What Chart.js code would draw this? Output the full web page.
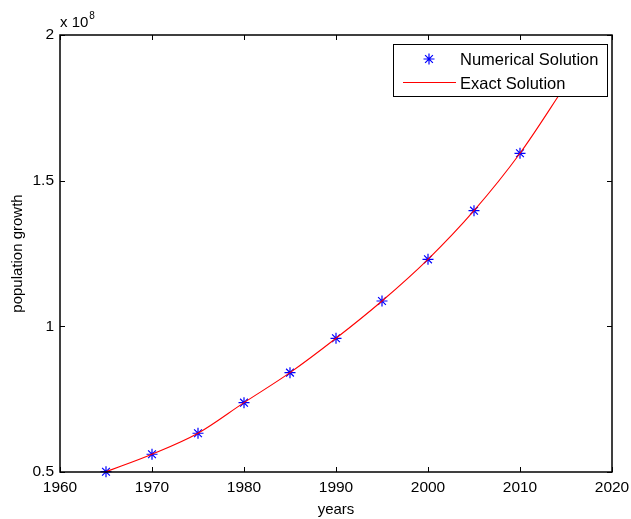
<!DOCTYPE html>
<html><head><meta charset="utf-8">
<script src="https://cdn.jsdelivr.net/npm/chart.js@4/dist/chart.umd.min.js"></script>
<style>html,body{margin:0;padding:0;background:#fff}#wrap{width:631px;height:519px}</style>
</head><body><div id="wrap"><canvas id="c" width="631" height="519"></canvas></div>
<script>
// ---- data ----
const numYears = [1965, 1970, 1975, 1980, 1985, 1990, 1995, 2000, 2005, 2010];
const numValues = [0.501e8, 0.561e8, 0.633e8, 0.738e8, 0.841e8, 0.959e8, 1.087e8, 1.230e8, 1.397e8, 1.594e8];
const exactYears = [1965, 1970, 1975, 1980, 1985, 1990, 1995, 2000, 2005, 2010, 2015];
const exactValues = [0.501e8, 0.561e8, 0.633e8, 0.738e8, 0.841e8, 0.959e8, 1.087e8, 1.230e8, 1.397e8, 1.594e8, 1.830e8];
const xTicks = [1960, 1970, 1980, 1990, 2000, 2010, 2020];
const yTicks = [0.5e8, 1.0e8, 1.5e8, 2.0e8];
const seriesNames = ['Numerical Solution', 'Exact Solution'];
const xTitle = 'years';
const yTitle = 'population growth';

const FONT = 'Liberation Sans, Arial, Helvetica, sans-serif';
Chart.defaults.font.family = FONT;
Chart.defaults.color = '#000';

const frame = {
  id: 'frame',
  afterDatasetsDraw(chart) {
    const {ctx, chartArea: a, scales: {x, y}} = chart;
    ctx.save();
    ctx.strokeStyle = '#000';
    ctx.lineWidth = 1.5;
    const L = a.left, R = a.right, T = a.top, B = a.bottom;
    ctx.strokeRect(L, T, R - L, B - T);
    ctx.lineWidth = 1;
    ctx.beginPath();
    xTicks.forEach(v => {
      const p = Math.round(x.getPixelForValue(v)) + 0.5;
      ctx.moveTo(p, B); ctx.lineTo(p, B - 5);
      ctx.moveTo(p, T); ctx.lineTo(p, T + 5);
    });
    yTicks.forEach(v => {
      const p = Math.round(y.getPixelForValue(v)) + 0.5;
      ctx.moveTo(L, p); ctx.lineTo(L + 5, p);
      ctx.moveTo(R, p); ctx.lineTo(R - 5, p);
    });
    ctx.stroke();
    // exponent label
    ctx.fillStyle = '#000';
    ctx.textBaseline = 'alphabetic';
    ctx.textAlign = 'left';
    ctx.font = '15px ' + FONT;
    ctx.fillText('x 10', L, T - 8);
    const w = ctx.measureText('x 10').width;
    ctx.font = '10px ' + FONT;
    ctx.fillText('8', L + w + 1, T - 16);
    ctx.restore();
  },
  afterDraw(chart) {
    const {ctx, chartArea: a} = chart;
    const ds = chart.data.datasets;
    ctx.save();
    const bx = a.right - 219, by = a.top + 9, bw = 214, bh = 52;
    ctx.fillStyle = '#fff';
    ctx.fillRect(bx, by, bw, bh);
    ctx.strokeStyle = '#000';
    ctx.lineWidth = 1;
    ctx.strokeRect(Math.round(bx) + 0.5, Math.round(by) + 0.5, bw, bh);
    // numerical entry
    const numDs = ds[1];
    const sx = bx + 36, sy = by + 15;
    ctx.strokeStyle = numDs.borderColor;
    ctx.lineWidth = 1.2;
    Chart.helpers.drawPoint(ctx, {pointStyle: 'star', radius: 5.5, borderWidth: 1.2, rotation: 0}, sx, sy);
    // exact entry
    const exDs = ds[0];
    ctx.strokeStyle = exDs.borderColor;
    ctx.lineWidth = 1;
    ctx.beginPath();
    ctx.moveTo(bx + 10, by + 38.5); ctx.lineTo(bx + 63, by + 38.5);
    ctx.stroke();
    ctx.fillStyle = '#000';
    ctx.font = '16.5px ' + FONT;
    ctx.textBaseline = 'middle';
    ctx.textAlign = 'left';
    ctx.fillText(numDs.label, bx + 67, sy + 1);
    ctx.fillText(exDs.label, bx + 67, by + 40);
    ctx.restore();
  }
};

new Chart(document.getElementById('c'), {
  type: 'scatter',
  data: {
    datasets: [
      {
        label: seriesNames[1],
        data: exactYears.map((yr, i) => ({x: yr, y: exactValues[i]})),
        showLine: true,
        borderColor: '#ff0000',
        borderWidth: 1.1,
        pointRadius: 0,
        cubicInterpolationMode: 'monotone',
        fill: false
      },
      {
        label: seriesNames[0],
        data: numYears.map((yr, i) => ({x: yr, y: numValues[i]})),
        showLine: false,
        pointStyle: 'star',
        pointRadius: 5.5,
        pointBorderWidth: 1.2,
        borderColor: '#0000ff',
        pointBorderColor: '#0000ff',
        backgroundColor: '#0000ff',
        clip: false
      }
    ]
  },
  options: {
    responsive: false,
    animation: false,
    events: [],
    layout: {padding: {top: 35, right: 19, left: 0, bottom: 0}},
    plugins: {legend: {display: false}, tooltip: {enabled: false}},
    scales: {
      x: {
        type: 'linear', min: 1960, max: 2020,
        afterBuildTicks: s => { s.ticks = xTicks.map(v => ({value: v})); },
        afterFit: s => { s.height = 47; s.paddingLeft = 0; s.paddingRight = 0; },
        grid: {display: false, drawTicks: false},
        border: {display: false},
        ticks: {padding: 6, font: {size: 15.5}, color: '#000', maxRotation: 0, autoSkip: false, callback: v => String(v)},
        title: {display: true, text: xTitle, font: {size: 15}, color: '#000', padding: {top: 0, bottom: 0}}
      },
      y: {
        type: 'linear', min: 0.5e8, max: 2e8,
        afterBuildTicks: s => { s.ticks = yTicks.map(v => ({value: v})); },
        afterFit: s => { s.width = 60; s.paddingTop = 0; s.paddingBottom = 0; },
        grid: {display: false, drawTicks: false},
        border: {display: false},
        ticks: {padding: 6, font: {size: 15.5}, color: '#000', autoSkip: false, callback: v => String(v / 1e8)},
        title: {display: true, text: yTitle, font: {size: 15}, color: '#000', padding: {top: 9, bottom: 0}}
      }
    }
  },
  plugins: [frame]
});
</script>
</body></html>
